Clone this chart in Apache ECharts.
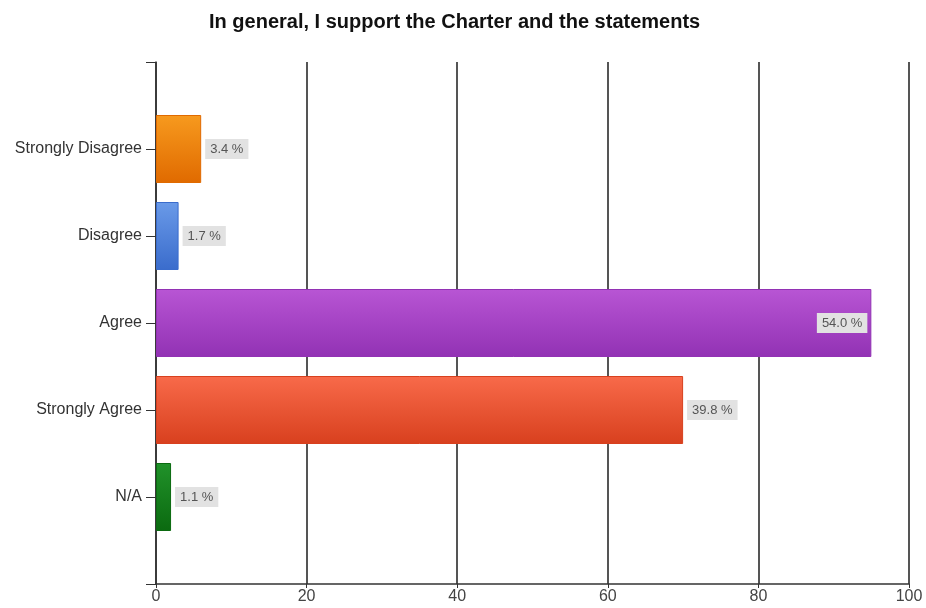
<!DOCTYPE html>
<html><head><meta charset="utf-8">
<script src="https://cdn.jsdelivr.net/npm/echarts@6/dist/echarts.min.js"></script>
<style>html,body{margin:0;padding:0;background:#fff}#c{width:926px;height:608px}</style>
</head><body><div id="c"></div>
<script>
const categories = ['Strongly Disagree', 'Disagree', 'Agree', 'Strongly Agree', 'N/A'];
const counts = [6, 3, 95, 70, 2];
const xTicks = [0, 20, 40, 60, 80, 100];
const colors = [
  ['#f79a1e', '#e06a00'],
  ['#6a9ae8', '#3a6ccc'],
  ['#b855d4', '#9232b4'],
  ['#f86a4a', '#d8401e'],
  ['#21922a', '#0b6a10']
];
const FONT = "'Liberation Sans', Arial, sans-serif";
const total = counts.reduce((a, b) => a + b, 0);
const yCats = [''].concat(categories).concat(['']);
const chart = echarts.init(document.getElementById('c'), null, {renderer: 'canvas'});
const data = counts.map((v, i) => ({
  value: [v, categories[i]],
  itemStyle: {
    color: new echarts.graphic.LinearGradient(0, 0, 0, 1, [
      {offset: 0, color: colors[i][0]}, {offset: 1, color: colors[i][1]}
    ]),
    borderColor: colors[i][1], borderWidth: 1
  },
  label: v > 90 ? {position: 'insideRight', distance: 4} : {position: 'right', distance: 4}
}));
chart.setOption({
  animation: false,
  title: {
    text: 'In general, I support the Charter and the statements',
    left: 204, top: 7,
    textStyle: {fontFamily: FONT, fontSize: 20, fontWeight: 'bold', color: '#111'}
  },
  grid: {left: 156, right: 17, top: 62, bottom: 24},
  xAxis: {
    type: 'value', min: xTicks[0], max: xTicks[xTicks.length - 1], interval: 20,
    axisLine: {show: true, lineStyle: {color: '#333', width: 1.5}},
    axisTick: {show: true, length: 4, lineStyle: {color: '#333'}},
    axisLabel: {color: '#444', fontSize: 16, fontFamily: FONT, margin: 5},
    splitLine: {show: true, lineStyle: {color: '#555', width: 2}}
  },
  yAxis: {
    type: 'category', data: yCats, inverse: true, boundaryGap: false,
    axisLine: {show: true, onZero: false, lineStyle: {color: '#333', width: 1.5}},
    axisTick: {show: true, length: 10, lineStyle: {color: '#333'}},
    axisLabel: {color: '#333', fontSize: 16, fontFamily: FONT, margin: 14},
    splitLine: {show: false}
  },
  series: [{
    type: 'bar', barWidth: 68,
    data: data,
    label: {
      show: true,
      formatter: p => (p.value[0] / total * 100).toFixed(1) + ' %',
      backgroundColor: '#e2e2e2', padding: [4, 5, 3, 5],
      color: '#555', fontSize: 13, fontFamily: FONT
    }
  }]
});
</script></body></html>
